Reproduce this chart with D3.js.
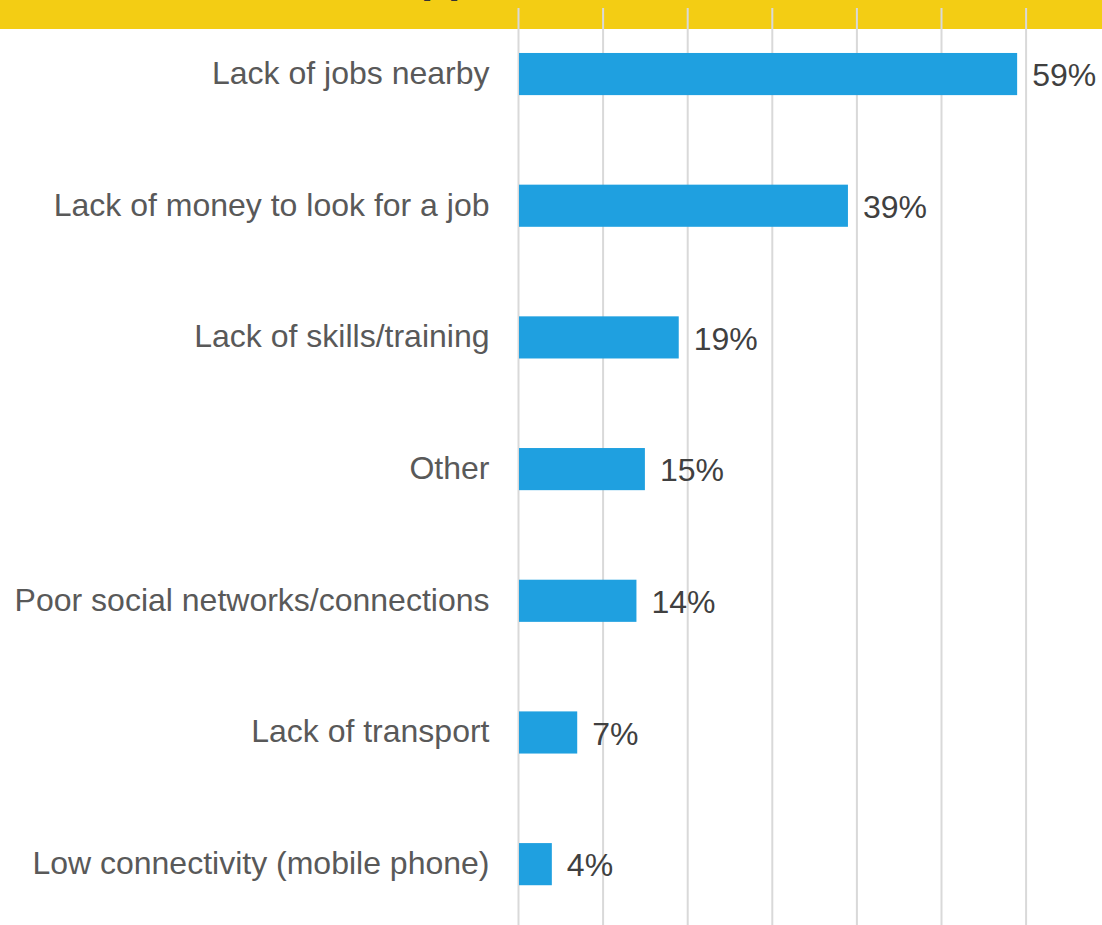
<!DOCTYPE html>
<html>
<head>
<meta charset="utf-8">
<script src="https://cdn.jsdelivr.net/npm/d3@7"></script>
<style>
  html, body { margin: 0; padding: 0; background: #fff; }
  svg { display: block; font-family: "Liberation Sans", Arial, sans-serif; }
</style>
</head>
<body>
<svg id="chart" width="1102" height="925"></svg>
<script>
// Reasons given for difficulty finding work (share of respondents)
const categories = [
  "Lack of jobs nearby",
  "Lack of money to look for a job",
  "Lack of skills/training",
  "Other",
  "Poor social networks/connections",
  "Lack of transport",
  "Low connectivity (mobile phone)"
];
const shares = [0.59, 0.39, 0.19, 0.15, 0.14, 0.07, 0.04];
const tickValues = [0, 0.1, 0.2, 0.3, 0.4, 0.5, 0.6, 0.7, 0.8];
const titleText = "Barriers to Opportunities";

const W = 1102, H = 925;
const svg = d3.select("#chart");

const x = d3.scaleLinear().domain([0, 0.8]).range([518, 1194.8]);
const y = d3.scaleBand().domain(categories).range([8.2, 930]).paddingInner(0.68).paddingOuter(0.34);

// Header band
svg.append("rect").attr("x", 0).attr("y", 0).attr("width", W).attr("height", 29).attr("fill", "#F3CD14");

// Title sits mostly above the visible area
const title = svg.append("text")
  .attr("y", -8)
  .attr("font-size", 44).attr("font-weight", "bold").attr("fill", "#333")
  .text(titleText);
const probe = svg.append("text").attr("font-size", 44).attr("font-weight", "bold").text("Barriers to O");
const prefixW = probe.node().getComputedTextLength();
probe.remove();
title.attr("x", 421 - prefixW);

// Vertical gridlines
const grid = svg.append("g")
  .attr("transform", "translate(0,8)")
  .call(d3.axisBottom(x).tickValues(tickValues).tickSize(H).tickFormat(""));
grid.select(".domain").remove();
grid.selectAll(".tick line").attr("stroke", "#D9D9D9").attr("stroke-width", 2);

// Bars
svg.append("g").selectAll("rect")
  .data(categories)
  .join("rect")
  .attr("x", x(0) + 1)
  .attr("y", d => y(d))
  .attr("width", (d, i) => x(shares[i]) - x(0) - 1)
  .attr("height", y.bandwidth())
  .attr("fill", "#1FA0E0");

// Category labels
svg.append("g").selectAll("text")
  .data(categories)
  .join("text")
  .attr("x", 489.5)
  .attr("y", d => y(d) + y.bandwidth() / 2)
  .attr("dy", "0.31em")
  .attr("text-anchor", "end")
  .attr("font-size", 32)
  .attr("fill", "#595959")
  .text(d => d);

// Value labels
svg.append("g").selectAll("text")
  .data(categories)
  .join("text")
  .attr("x", (d, i) => x(shares[i]) + 15)
  .attr("y", d => y(d) + y.bandwidth() / 2)
  .attr("dy", "0.38em")
  .attr("font-size", 32)
  .attr("fill", "#404040")
  .text((d, i) => d3.format(".0%")(shares[i]));
</script>
</body>
</html>
